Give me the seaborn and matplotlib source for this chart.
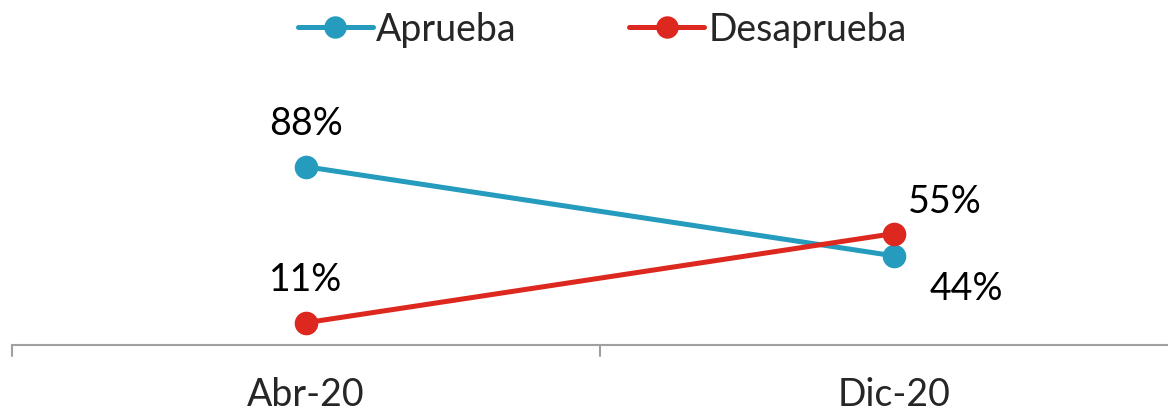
import pandas as pd
import matplotlib.pyplot as plt
import seaborn as sns

# Datos del gráfico
periodos = ["Abr-20", "Dic-20"]
aprueba = [88, 44]
desaprueba = [11, 55]
series = ["Aprueba", "Desaprueba"]
colores = ["#259BBD", "#DC281E"]

df = pd.DataFrame({
    "periodo": periodos * 2,
    "pos": [0, 1] * 2,
    "valor": aprueba + desaprueba,
    "serie": [series[0]] * 2 + [series[1]] * 2,
})

sns.set_style("white")
plt.rcParams["font.family"] = ["Lato", "DejaVu Sans"]

fig = plt.figure(figsize=(11.68, 4.14), dpi=100)
ax = fig.add_axes([12 / 1168, 68 / 414, 1176 / 1168, 202.6 / 414])

sns.lineplot(
    data=df, x="pos", y="valor", hue="serie",
    palette=colores, marker="o", markersize=17, markeredgewidth=0,
    linewidth=3.6, ax=ax, legend=True
)

ax.set_xlim(-0.5, 1.5)
ax.set_ylim(0, 100)
ax.set_xticks([0, 1])
ax.set_xticklabels(periodos, fontsize=27)
ax.tick_params(axis="x", length=0, pad=22)
ax.set_yticks([])
ax.set_xlabel("")
ax.set_ylabel("")
for s in ["top", "right", "left"]:
    ax.spines[s].set_visible(False)
ax.spines["bottom"].set_color("#A0A0A0")
ax.spines["bottom"].set_linewidth(1.5)

# marcas de separación de categorías
for xb in [-0.5, 0.5, 1.5]:
    ax.plot([xb, xb], [0, -5.5], color="#A0A0A0", lw=1.5, clip_on=False)

# etiquetas de datos
kw = dict(fontsize=27, color="black", ha="center", va="center")
ax.text(0, 88 + 21.5, "88%", **kw)
ax.text(0, 11 + 21.5, "11%", **kw)
ax.text(1 + 0.087, 55 + 16, "55%", **kw)
ax.text(1 + 0.123, 44 - 16, "44%", **kw)

handles, labels = ax.get_legend_handles_labels()
ax.legend(handles, labels, loc="center", bbox_to_anchor=(602 / 1168, 1 - 30 / 414),
          bbox_transform=fig.transFigure, ncol=2, frameon=False, fontsize=27,
          handlelength=2.0, handletextpad=0.1, columnspacing=3.0, markerscale=0.95)

fig.savefig("out.png", dpi=100)
